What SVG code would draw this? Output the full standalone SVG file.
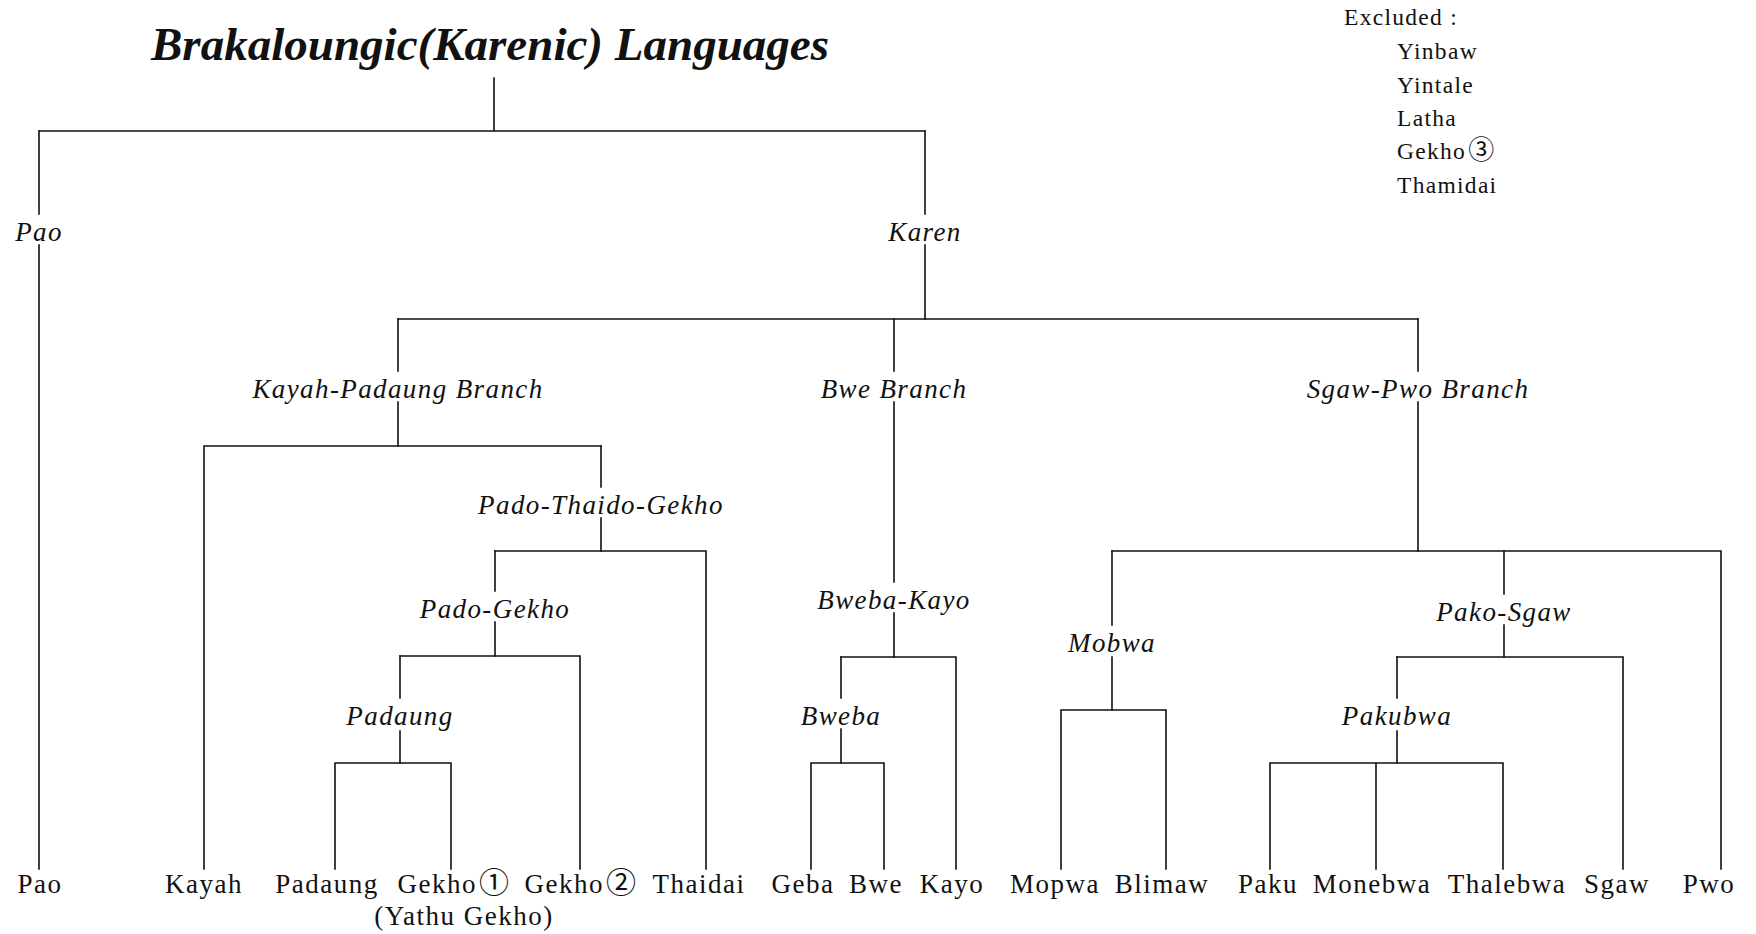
<svg xmlns="http://www.w3.org/2000/svg" width="1756" height="934" viewBox="0 0 1756 934">
<style>
.ln{stroke:#111;stroke-width:1.6;fill:none;stroke-linecap:square}
.it{font-family:"Liberation Serif","Noto Sans CJK JP",serif;font-style:italic;font-size:27px;letter-spacing:1.4px;text-anchor:middle;fill:#111}
.lf{font-family:"Liberation Serif","Noto Sans CJK JP",serif;font-size:27px;letter-spacing:1.5px;text-anchor:middle;fill:#111}
.ex{font-family:"Liberation Serif","Noto Sans CJK JP",serif;font-size:23.5px;letter-spacing:1.3px;fill:#111}
.tt{font-family:"Liberation Serif",serif;font-style:italic;font-weight:bold;font-size:46px;text-anchor:middle;fill:#111}
.cd{font-size:30px}
</style>
<rect width="1756" height="934" fill="#fff"/>
<g id="connectors" class="ln">
<path d="M494 78V131M39 131H925"/>
<path d="M39 131V214M39 245V869"/>
<path d="M925 131V214M925 245V319"/>
<path d="M398 319H1418"/>
<path d="M398 319V371M398 402V446"/>
<path d="M894 319V371M894 402V582M894 613V657"/>
<path d="M1418 319V371M1418 402V551"/>
<path d="M204 446H601M204 446V869"/>
<path d="M601 446V487M601 518V551"/>
<path d="M495 551H706M706 551V869"/>
<path d="M495 551V591M495 622V656"/>
<path d="M400 656H580M580 656V869"/>
<path d="M400 656V698M400 731V763"/>
<path d="M335 763H451M335 763V869M451 763V869"/>
<path d="M841 657H956M956 657V869"/>
<path d="M841 657V698M841 729V763"/>
<path d="M811 763H884M811 763V869M884 763V869"/>
<path d="M1112 551H1721M1721 551V869"/>
<path d="M1112 551V625M1112 657V710"/>
<path d="M1061 710H1166M1061 710V869M1166 710V869"/>
<path d="M1504 551V594M1504 625V657"/>
<path d="M1397 657H1623M1623 657V869"/>
<path d="M1397 657V698M1397 731V763"/>
<path d="M1270 763H1503M1270 763V869M1376 763V869M1503 763V869"/>
</g>
<g id="n-title"><text class="tt" x="490" y="60" textLength="678" lengthAdjust="spacingAndGlyphs">Brakaloungic(Karenic) Languages</text></g>
<g id="n-excluded">
<text class="ex" x="1344" y="25">Excluded :</text>
<text class="ex" x="1397" y="59">Yinbaw</text>
<text class="ex" x="1397" y="93">Yintale</text>
<text class="ex" x="1397" y="126">Latha</text>
<text class="ex" x="1397" y="159">Gekho<tspan dx="2" font-size="26">③</tspan></text>
<text class="ex" x="1397" y="193">Thamidai</text>
</g>
<g id="n-pao-branch"><text class="it" x="39" y="241">Pao</text></g>
<g id="n-karen"><text class="it" x="925" y="241">Karen</text></g>
<g id="n-kayah-padaung"><text class="it" x="398" y="398">Kayah-Padaung Branch</text></g>
<g id="n-bwe-branch"><text class="it" x="894" y="398">Bwe Branch</text></g>
<g id="n-sgaw-pwo"><text class="it" x="1418" y="398">Sgaw-Pwo Branch</text></g>
<g id="n-pado-thaido-gekho"><text class="it" x="601" y="514">Pado-Thaido-Gekho</text></g>
<g id="n-pado-gekho"><text class="it" x="495" y="618">Pado-Gekho</text></g>
<g id="n-padaung-group"><text class="it" x="400" y="725">Padaung</text></g>
<g id="n-bweba-kayo"><text class="it" x="894" y="609">Bweba-Kayo</text></g>
<g id="n-bweba"><text class="it" x="841" y="725">Bweba</text></g>
<g id="n-mobwa"><text class="it" x="1112" y="652">Mobwa</text></g>
<g id="n-pako-sgaw"><text class="it" x="1504" y="621">Pako-Sgaw</text></g>
<g id="n-pakubwa"><text class="it" x="1397" y="725">Pakubwa</text></g>
<g id="n-pao"><text class="lf" x="40" y="893">Pao</text></g>
<g id="n-kayah"><text class="lf" x="204" y="893">Kayah</text></g>
<g id="n-padaung"><text class="lf" x="327" y="893">Padaung</text></g>
<g id="n-gekho1"><text class="lf" x="454" y="893">Gekho<tspan dx="2" class="cd">①</tspan></text><text class="lf" x="464" y="925">(Yathu Gekho)</text></g>
<g id="n-gekho2"><text class="lf" x="581" y="893">Gekho<tspan dx="2" class="cd">②</tspan></text></g>
<g id="n-thaidai"><text class="lf" x="699" y="893">Thaidai</text></g>
<g id="n-geba"><text class="lf" x="803" y="893">Geba</text></g>
<g id="n-bwe"><text class="lf" x="876" y="893">Bwe</text></g>
<g id="n-kayo"><text class="lf" x="952" y="893">Kayo</text></g>
<g id="n-mopwa"><text class="lf" x="1055" y="893">Mopwa</text></g>
<g id="n-blimaw"><text class="lf" x="1162" y="893">Blimaw</text></g>
<g id="n-paku"><text class="lf" x="1268" y="893">Paku</text></g>
<g id="n-monebwa"><text class="lf" x="1372" y="893">Monebwa</text></g>
<g id="n-thalebwa"><text class="lf" x="1507" y="893">Thalebwa</text></g>
<g id="n-sgaw"><text class="lf" x="1617" y="893">Sgaw</text></g>
<g id="n-pwo"><text class="lf" x="1709" y="893">Pwo</text></g>
</svg>
